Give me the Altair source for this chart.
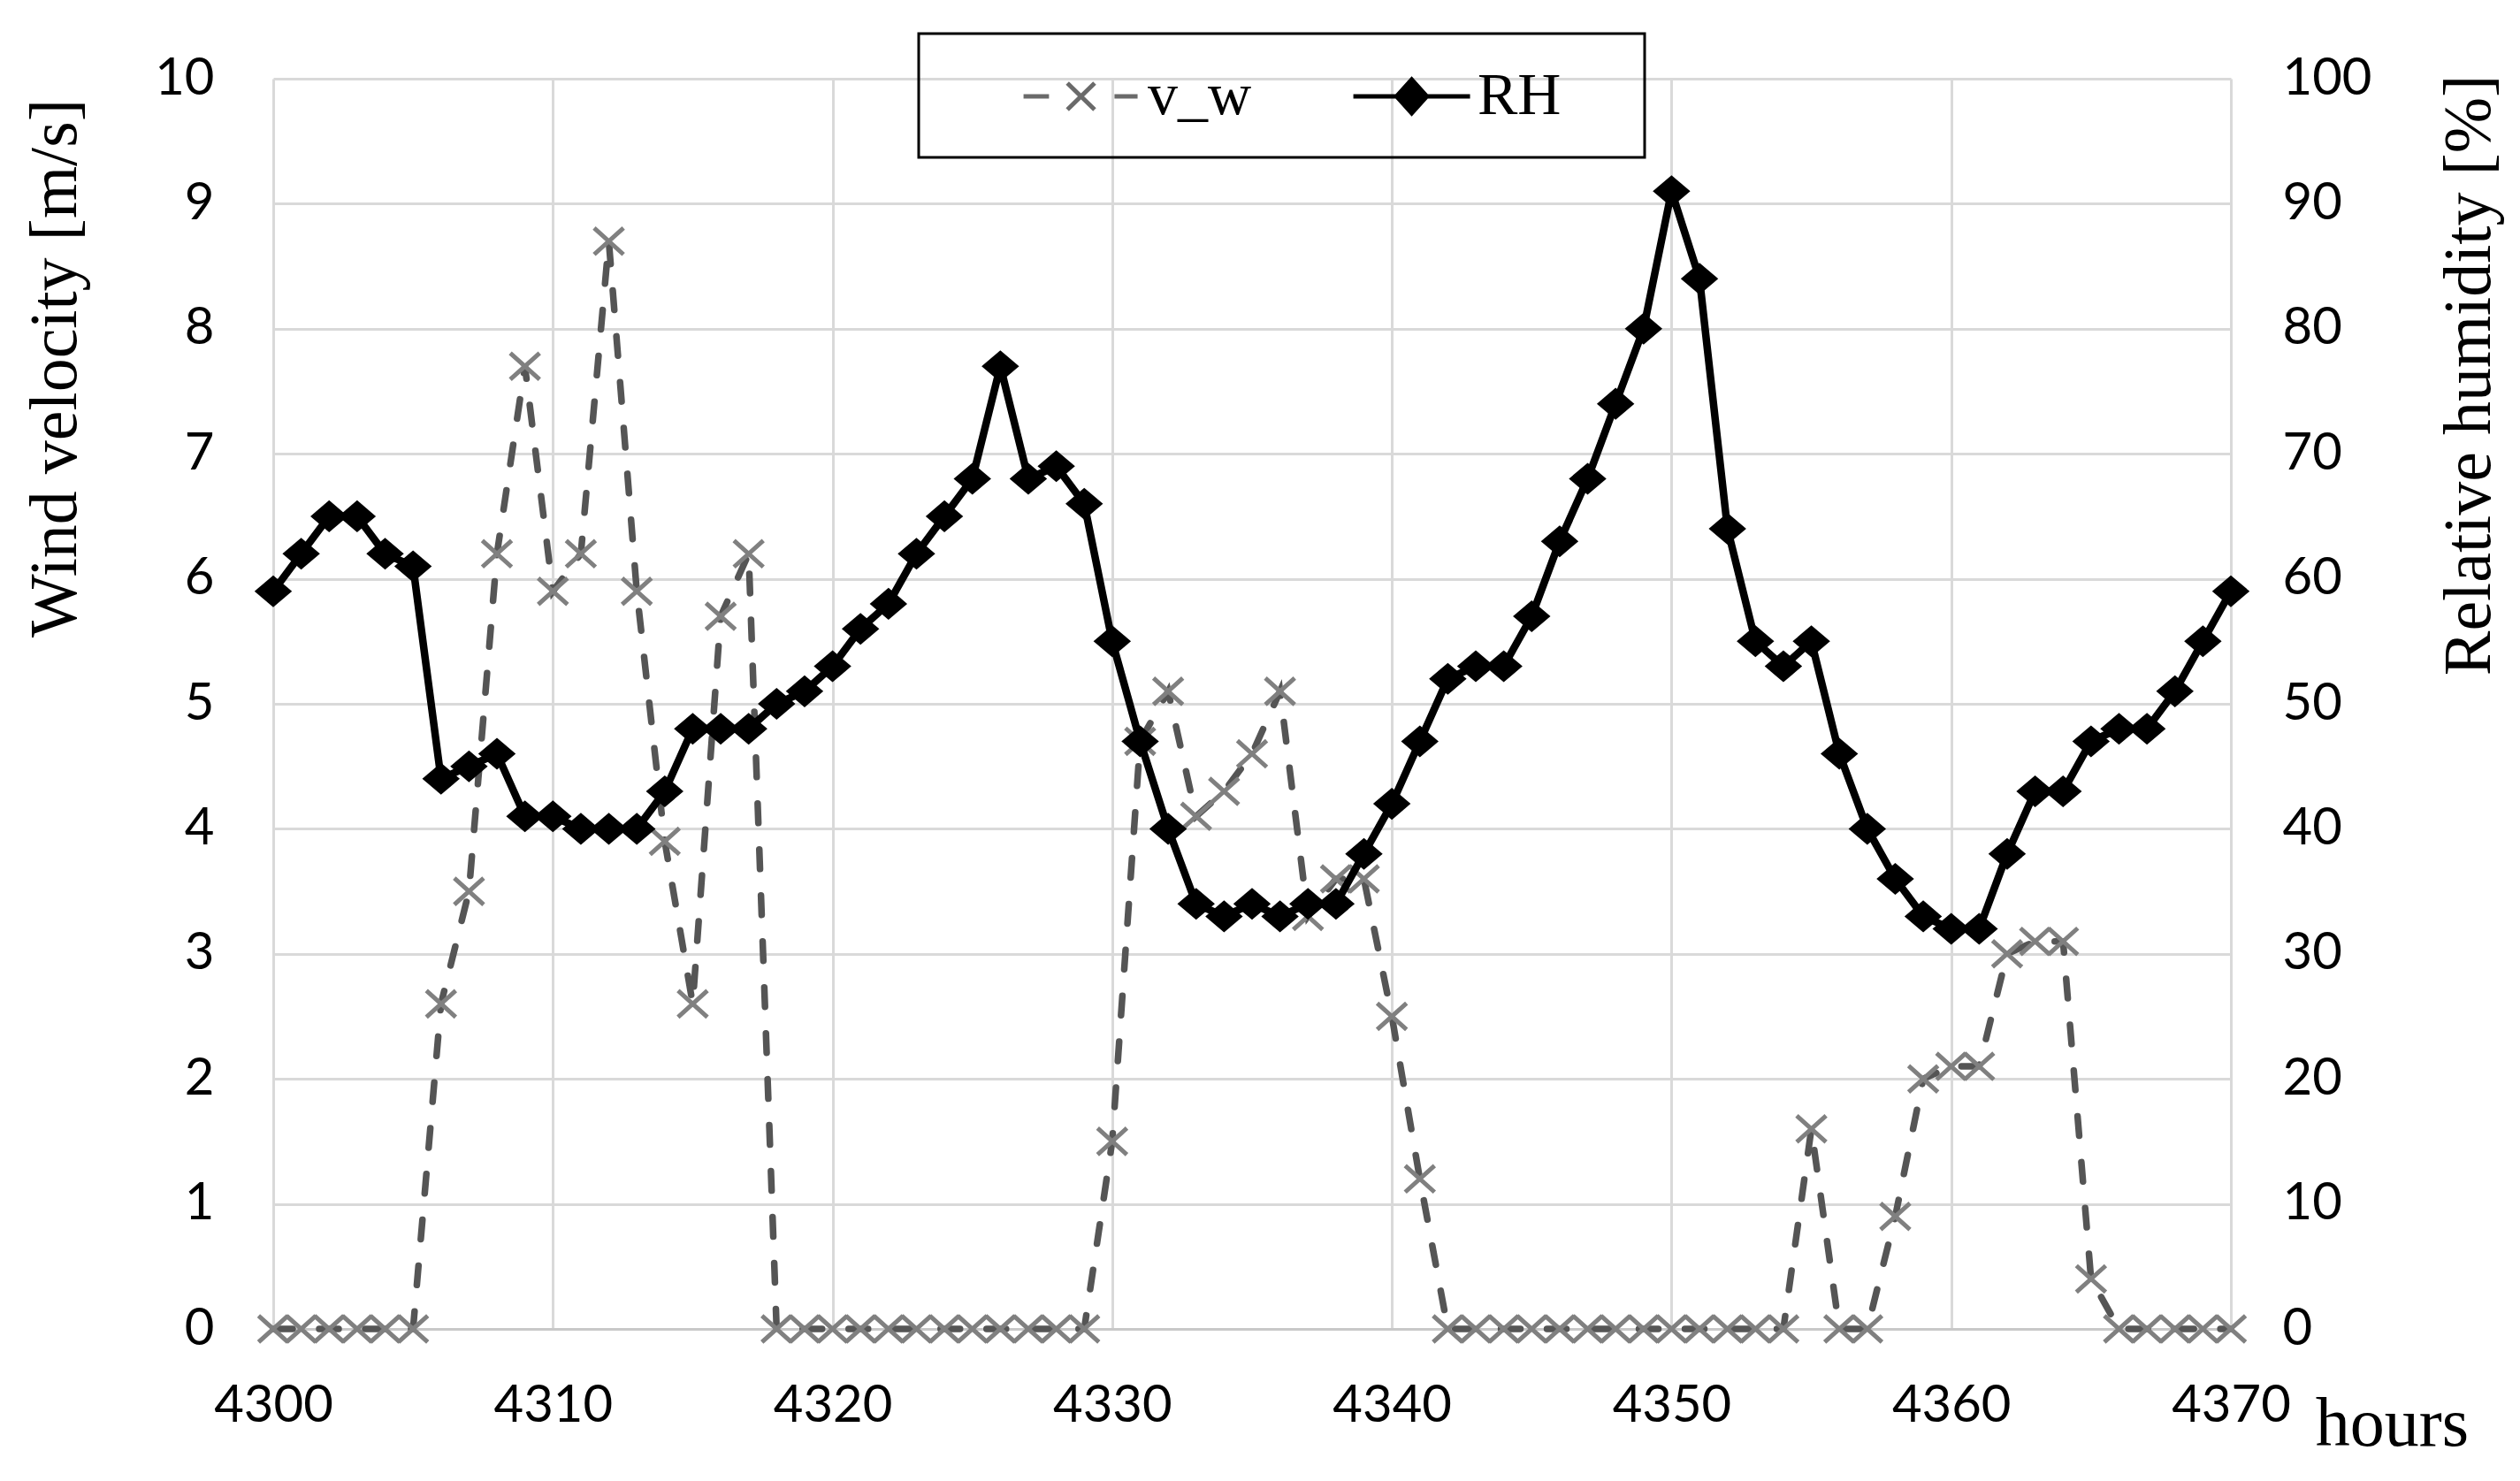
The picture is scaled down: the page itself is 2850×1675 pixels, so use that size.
import altair as alt
import pandas as pd

hours = list(range(4300, 4371))
v_w = [0, 0, 0, 0, 0, 0,
       2.6, 3.5, 6.2, 7.7, 5.9, 6.2, 8.7, 5.9, 3.9, 2.6, 5.7, 6.2,
       0, 0, 0, 0, 0, 0, 0, 0, 0, 0, 0, 0,
       1.5, 4.7, 5.1, 4.1, 4.3, 4.6, 5.1, 3.3, 3.6, 3.6, 2.5, 1.2,
       0, 0, 0, 0, 0, 0, 0, 0, 0, 0, 0, 0, 0,
       1.6, 0, 0, 0.9, 2.0, 2.1, 2.1, 3.0, 3.1, 3.1, 0.4, 0, 0, 0, 0, 0]
rh = [59, 62, 65, 65, 62, 61, 44, 45, 46, 41,
      41, 40, 40, 40, 43, 48, 48, 48, 50, 51,
      53, 56, 58, 62, 65, 68, 77, 68, 69, 66,
      55, 47, 40, 34, 33, 34, 33, 34, 34, 38,
      42, 47, 52, 53, 53, 57, 63, 68, 74, 80,
      91, 84, 64, 55, 53, 55, 46, 40, 36, 33,
      32, 32, 38, 43, 43, 47, 48, 48, 51, 55, 59]
series_names = ["v_w", "RH"]
x_ticks = list(range(4300, 4371, 10))
vw_ticks = list(range(0, 11))
rh_ticks = list(range(0, 101, 10))

df = pd.DataFrame({"hour": hours, "v_w": v_w, "RH": rh})

SERIF = "Liberation Serif"
SANS = "Lato"
X_PATH = "M-1,-0.9L1,0.9M-1,0.9L1,-0.9"
DIAMOND = "M-1,0L0,-0.85L1,0L0,0.85Z"
LEG_VW = "M1.42,0H2.28M4.49,0H5.27M2.9,-0.45L3.82,0.45M2.9,0.45L3.82,-0.45"
LEG_RH = "M1.42,0H5.36M2.88,0L3.39,-0.57L3.9,0L3.39,0.57ZM9.9,0"

base = alt.Chart(df)

x_enc = alt.X(
    "hour:Q",
    scale=alt.Scale(domain=[4300, 4370], nice=False, zero=False),
    axis=alt.Axis(values=x_ticks, format="d", title="hours", grid=True,
                  gridColor="#d9d9d9", gridWidth=3, domain=True,
                  domainColor="#c8c8c8", domainWidth=3, ticks=False, tickSize=0,
                  labelFlush=False, labelPadding=58, labelFont=SANS,
                  labelFontSize=58, titleX=2396, titleY=108,
                  titleAlign="center", titleBaseline="middle",
                  titleFont=SERIF, titleFontSize=78),
)

y_left = alt.Y(
    "v_w:Q",
    scale=alt.Scale(domain=[0, 10], nice=False),
    axis=alt.Axis(orient="left", values=vw_ticks, title="Wind velocity [m/s]",
                  grid=True, gridColor="#d9d9d9", gridWidth=3, domain=False,
                  ticks=False, tickSize=0, labelPadding=67, labelFont=SANS,
                  labelFontSize=58, titleAngle=270, titleX=-247, titleY=327,
                  titleAlign="center", titleBaseline="middle", titleFont=SERIF,
                  titleFontSize=76),
)

y_right = alt.Y(
    "RH:Q",
    scale=alt.Scale(domain=[0, 100], nice=False),
    axis=alt.Axis(orient="right", values=rh_ticks, title="Relative humidity [%]",
                  grid=False, domain=False, ticks=False, tickSize=0,
                  labelPadding=58, labelFont=SANS, labelFontSize=58,
                  titleAngle=270, titleX=269, titleY=335, titleAlign="center",
                  titleBaseline="middle", titleFont=SERIF, titleFontSize=76),
)

leg = alt.Legend(title=None, orient="none", legendX=730, legendY=-51,
                 direction="horizontal", columns=2, symbolSize=4489,
                 symbolStrokeWidth=5, labelFont=SERIF, labelFontSize=68,
                 labelColor="black", labelOffset=152, columnPadding=31,
                 padding=35, strokeColor="black", gridAlign="each")

vw_line = base.mark_line(color="#555555", strokeWidth=7.5, strokeDash=[22, 30],
                         strokeCap="round").encode(x=x_enc, y=y_left)
vw_pts = base.mark_point(shape=X_PATH, size=1100, filled=False, color="#808080",
                         strokeWidth=5, opacity=1).encode(x=x_enc, y=y_left)
legend_layer = base.transform_filter("false").transform_calculate(
    series="'v_w'"
).mark_point(filled=True, opacity=1, strokeWidth=5).encode(
    x=x_enc, y=y_left,
    fill=alt.Fill("series:N", scale=alt.Scale(domain=series_names, range=["#6a6a6a", "black"]), legend=leg),
    stroke=alt.Stroke("series:N", scale=alt.Scale(domain=series_names, range=["#6a6a6a", "black"]), legend=leg),
    shape=alt.Shape("series:N", scale=alt.Scale(domain=series_names, range=[LEG_VW, LEG_RH]), legend=leg),
)

rh_line = base.mark_line(color="black", strokeWidth=8.5).encode(x=x_enc, y=y_right)
rh_pts = base.mark_point(shape=DIAMOND, size=1800, filled=True, color="black",
                         opacity=1).encode(x=x_enc, y=y_right)

left = alt.layer(vw_line, vw_pts, legend_layer)
right = alt.layer(rh_line, rh_pts)

chart = alt.layer(left, right).resolve_scale(y="independent").properties(
    width=2214, height=1414,
    padding={"left": 301, "top": 81, "right": 318, "bottom": 160},
    autosize=alt.AutoSizeParams(type="none"),
    background="white",
).configure_view(stroke="transparent").configure_axis(
    labelColor="black", titleColor="black", titleFontWeight="normal"
).configure_legend(strokeWidth=3)

chart.save("out.html", embed_options={"renderer": "svg", "actions": False})
